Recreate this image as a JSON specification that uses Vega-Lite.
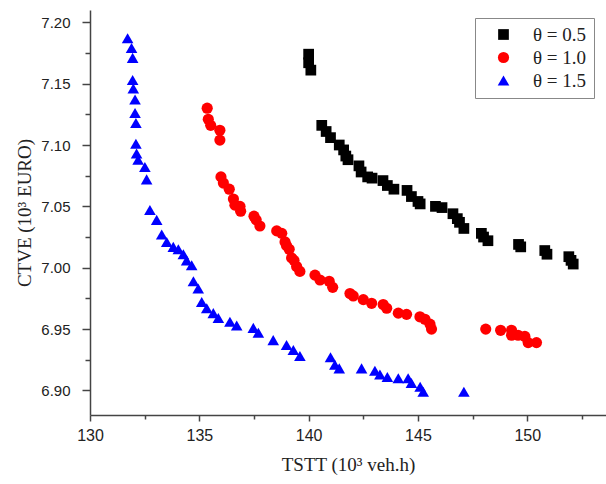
{
  "$schema": "https://vega.github.io/schema/vega-lite/v6.json",
  "width": 516,
  "height": 405,
  "autosize": {"type": "none"},
  "padding": {"left": 90, "top": 10, "right": 0, "bottom": 69},
  "background": "white",
  "config": {"view": {"stroke": null}},
  "data": {"values": [
    {"t": 140.0, "c": 7.174, "s": "θ = 0.5"},
    {"t": 140.0, "c": 7.167, "s": "θ = 0.5"},
    {"t": 140.1, "c": 7.161, "s": "θ = 0.5"},
    {"t": 140.6, "c": 7.116, "s": "θ = 0.5"},
    {"t": 140.8, "c": 7.111, "s": "θ = 0.5"},
    {"t": 141.0, "c": 7.106, "s": "θ = 0.5"},
    {"t": 141.4, "c": 7.100, "s": "θ = 0.5"},
    {"t": 141.6, "c": 7.096, "s": "θ = 0.5"},
    {"t": 141.7, "c": 7.091, "s": "θ = 0.5"},
    {"t": 141.8, "c": 7.088, "s": "θ = 0.5"},
    {"t": 142.3, "c": 7.083, "s": "θ = 0.5"},
    {"t": 142.4, "c": 7.078, "s": "θ = 0.5"},
    {"t": 142.7, "c": 7.074, "s": "θ = 0.5"},
    {"t": 142.9, "c": 7.073, "s": "θ = 0.5"},
    {"t": 143.4, "c": 7.071, "s": "θ = 0.5"},
    {"t": 143.6, "c": 7.067, "s": "θ = 0.5"},
    {"t": 143.9, "c": 7.064, "s": "θ = 0.5"},
    {"t": 144.5, "c": 7.063, "s": "θ = 0.5"},
    {"t": 144.7, "c": 7.058, "s": "θ = 0.5"},
    {"t": 145.0, "c": 7.054, "s": "θ = 0.5"},
    {"t": 145.1, "c": 7.052, "s": "θ = 0.5"},
    {"t": 145.8, "c": 7.050, "s": "θ = 0.5"},
    {"t": 146.1, "c": 7.049, "s": "θ = 0.5"},
    {"t": 146.6, "c": 7.044, "s": "θ = 0.5"},
    {"t": 146.8, "c": 7.040, "s": "θ = 0.5"},
    {"t": 146.9, "c": 7.037, "s": "θ = 0.5"},
    {"t": 147.1, "c": 7.032, "s": "θ = 0.5"},
    {"t": 147.9, "c": 7.028, "s": "θ = 0.5"},
    {"t": 148.0, "c": 7.025, "s": "θ = 0.5"},
    {"t": 148.2, "c": 7.022, "s": "θ = 0.5"},
    {"t": 149.6, "c": 7.019, "s": "θ = 0.5"},
    {"t": 149.7, "c": 7.017, "s": "θ = 0.5"},
    {"t": 150.8, "c": 7.014, "s": "θ = 0.5"},
    {"t": 150.9, "c": 7.011, "s": "θ = 0.5"},
    {"t": 151.9, "c": 7.009, "s": "θ = 0.5"},
    {"t": 152.0, "c": 7.006, "s": "θ = 0.5"},
    {"t": 152.1, "c": 7.003, "s": "θ = 0.5"},
    {"t": 135.36, "c": 7.130, "s": "θ = 1.0"},
    {"t": 135.41, "c": 7.121, "s": "θ = 1.0"},
    {"t": 135.52, "c": 7.116, "s": "θ = 1.0"},
    {"t": 135.94, "c": 7.112, "s": "θ = 1.0"},
    {"t": 135.94, "c": 7.104, "s": "θ = 1.0"},
    {"t": 135.99, "c": 7.074, "s": "θ = 1.0"},
    {"t": 136.10, "c": 7.069, "s": "θ = 1.0"},
    {"t": 136.37, "c": 7.064, "s": "θ = 1.0"},
    {"t": 136.56, "c": 7.056, "s": "θ = 1.0"},
    {"t": 136.63, "c": 7.051, "s": "θ = 1.0"},
    {"t": 136.86, "c": 7.050, "s": "θ = 1.0"},
    {"t": 136.89, "c": 7.046, "s": "θ = 1.0"},
    {"t": 137.50, "c": 7.042, "s": "θ = 1.0"},
    {"t": 137.60, "c": 7.039, "s": "θ = 1.0"},
    {"t": 137.77, "c": 7.034, "s": "θ = 1.0"},
    {"t": 138.54, "c": 7.030, "s": "θ = 1.0"},
    {"t": 138.77, "c": 7.028, "s": "θ = 1.0"},
    {"t": 138.92, "c": 7.021, "s": "θ = 1.0"},
    {"t": 138.99, "c": 7.018, "s": "θ = 1.0"},
    {"t": 139.11, "c": 7.015, "s": "θ = 1.0"},
    {"t": 139.22, "c": 7.008, "s": "θ = 1.0"},
    {"t": 139.33, "c": 7.006, "s": "θ = 1.0"},
    {"t": 139.45, "c": 7.001, "s": "θ = 1.0"},
    {"t": 139.60, "c": 6.997, "s": "θ = 1.0"},
    {"t": 140.29, "c": 6.994, "s": "θ = 1.0"},
    {"t": 140.52, "c": 6.990, "s": "θ = 1.0"},
    {"t": 140.94, "c": 6.989, "s": "θ = 1.0"},
    {"t": 141.10, "c": 6.984, "s": "θ = 1.0"},
    {"t": 141.89, "c": 6.979, "s": "θ = 1.0"},
    {"t": 142.04, "c": 6.977, "s": "θ = 1.0"},
    {"t": 142.50, "c": 6.974, "s": "θ = 1.0"},
    {"t": 142.88, "c": 6.971, "s": "θ = 1.0"},
    {"t": 143.41, "c": 6.970, "s": "θ = 1.0"},
    {"t": 143.57, "c": 6.967, "s": "θ = 1.0"},
    {"t": 144.10, "c": 6.963, "s": "θ = 1.0"},
    {"t": 144.48, "c": 6.962, "s": "θ = 1.0"},
    {"t": 145.09, "c": 6.960, "s": "θ = 1.0"},
    {"t": 145.32, "c": 6.958, "s": "θ = 1.0"},
    {"t": 145.55, "c": 6.954, "s": "θ = 1.0"},
    {"t": 145.62, "c": 6.950, "s": "θ = 1.0"},
    {"t": 148.10, "c": 6.950, "s": "θ = 1.0"},
    {"t": 148.78, "c": 6.949, "s": "θ = 1.0"},
    {"t": 149.28, "c": 6.949, "s": "θ = 1.0"},
    {"t": 149.28, "c": 6.945, "s": "θ = 1.0"},
    {"t": 149.58, "c": 6.945, "s": "θ = 1.0"},
    {"t": 149.89, "c": 6.944, "s": "θ = 1.0"},
    {"t": 150.04, "c": 6.939, "s": "θ = 1.0"},
    {"t": 150.42, "c": 6.939, "s": "θ = 1.0"},
    {"t": 131.72, "c": 7.187, "s": "θ = 1.5"},
    {"t": 131.90, "c": 7.179, "s": "θ = 1.5"},
    {"t": 131.95, "c": 7.171, "s": "θ = 1.5"},
    {"t": 131.95, "c": 7.153, "s": "θ = 1.5"},
    {"t": 131.98, "c": 7.146, "s": "θ = 1.5"},
    {"t": 132.06, "c": 7.137, "s": "θ = 1.5"},
    {"t": 132.06, "c": 7.126, "s": "θ = 1.5"},
    {"t": 132.10, "c": 7.118, "s": "θ = 1.5"},
    {"t": 132.10, "c": 7.101, "s": "θ = 1.5"},
    {"t": 132.13, "c": 7.093, "s": "θ = 1.5"},
    {"t": 132.20, "c": 7.088, "s": "θ = 1.5"},
    {"t": 132.51, "c": 7.082, "s": "θ = 1.5"},
    {"t": 132.59, "c": 7.072, "s": "θ = 1.5"},
    {"t": 132.74, "c": 7.047, "s": "θ = 1.5"},
    {"t": 133.05, "c": 7.039, "s": "θ = 1.5"},
    {"t": 133.28, "c": 7.027, "s": "θ = 1.5"},
    {"t": 133.51, "c": 7.021, "s": "θ = 1.5"},
    {"t": 133.81, "c": 7.017, "s": "θ = 1.5"},
    {"t": 134.04, "c": 7.015, "s": "θ = 1.5"},
    {"t": 134.27, "c": 7.011, "s": "θ = 1.5"},
    {"t": 134.42, "c": 7.006, "s": "θ = 1.5"},
    {"t": 134.65, "c": 7.002, "s": "θ = 1.5"},
    {"t": 134.73, "c": 6.989, "s": "θ = 1.5"},
    {"t": 134.95, "c": 6.983, "s": "θ = 1.5"},
    {"t": 135.11, "c": 6.972, "s": "θ = 1.5"},
    {"t": 135.34, "c": 6.967, "s": "θ = 1.5"},
    {"t": 135.64, "c": 6.963, "s": "θ = 1.5"},
    {"t": 135.87, "c": 6.959, "s": "θ = 1.5"},
    {"t": 136.40, "c": 6.956, "s": "θ = 1.5"},
    {"t": 136.71, "c": 6.953, "s": "θ = 1.5"},
    {"t": 137.47, "c": 6.951, "s": "θ = 1.5"},
    {"t": 137.70, "c": 6.947, "s": "θ = 1.5"},
    {"t": 138.38, "c": 6.941, "s": "θ = 1.5"},
    {"t": 138.99, "c": 6.937, "s": "θ = 1.5"},
    {"t": 139.30, "c": 6.933, "s": "θ = 1.5"},
    {"t": 139.60, "c": 6.928, "s": "θ = 1.5"},
    {"t": 141.00, "c": 6.927, "s": "θ = 1.5"},
    {"t": 141.20, "c": 6.921, "s": "θ = 1.5"},
    {"t": 141.40, "c": 6.918, "s": "θ = 1.5"},
    {"t": 142.42, "c": 6.918, "s": "θ = 1.5"},
    {"t": 143.03, "c": 6.916, "s": "θ = 1.5"},
    {"t": 143.26, "c": 6.913, "s": "θ = 1.5"},
    {"t": 143.60, "c": 6.911, "s": "θ = 1.5"},
    {"t": 144.10, "c": 6.910, "s": "θ = 1.5"},
    {"t": 144.55, "c": 6.910, "s": "θ = 1.5"},
    {"t": 144.70, "c": 6.906, "s": "θ = 1.5"},
    {"t": 145.10, "c": 6.903, "s": "θ = 1.5"},
    {"t": 145.24, "c": 6.899, "s": "θ = 1.5"},
    {"t": 147.10, "c": 6.899, "s": "θ = 1.5"}
  ]},
  "mark": {"type": "point", "filled": true, "opacity": 1, "strokeWidth": 0},
  "encoding": {
    "x": {
      "field": "t", "type": "quantitative",
      "scale": {"domain": [130, 153.6], "nice": false, "zero": false},
      "axis": {
        "title": "TSTT (10³ veh.h)",
        "values": [130, 132.5, 135, 137.5, 140, 142.5, 145, 147.5, 150, 152.5],
        "labelExpr": "datum.value % 5 === 0 ? format(datum.value, 'd') : ''",
        "tickSize": {"condition": {"test": "datum.value % 5 === 0", "value": 6}, "value": 4},
        "labelOverlap": false, "labelFlush": false,
        "grid": false,
        "domainColor": "#444", "domainWidth": 1.5, "tickColor": "#444", "tickWidth": 1.5,
        "labelFont": "Liberation Sans", "labelFontSize": 16, "labelColor": "#222", "labelPadding": 6,
        "titleFont": "Liberation Serif", "titleFontSize": 19, "titleFontWeight": "normal", "titleColor": "#222", "titlePadding": 12
      }
    },
    "y": {
      "field": "c", "type": "quantitative",
      "scale": {"domain": [6.88, 7.21], "nice": false, "zero": false},
      "axis": {
        "title": "CTVE (10³ EURO)",
        "values": [6.9, 6.925, 6.95, 6.975, 7.0, 7.025, 7.05, 7.075, 7.1, 7.125, 7.15, 7.175, 7.2],
        "labelExpr": "round(datum.value * 1000) % 50 === 0 ? format(datum.value, '.2f') : ''",
        "tickSize": {"condition": {"test": "round(datum.value * 1000) % 50 === 0", "value": 8}, "value": 5},
        "labelOverlap": false, "labelFlush": false,
        "grid": false,
        "domainColor": "#444", "domainWidth": 1.5, "tickColor": "#444", "tickWidth": 1.5,
        "labelFont": "Liberation Sans", "labelFontSize": 15, "labelColor": "#222", "labelPadding": 12,
        "titleFont": "Liberation Serif", "titleFontSize": 19, "titleFontWeight": "normal", "titleColor": "#222", "titlePadding": 6
      }
    },
    "color": {
      "field": "s", "type": "nominal",
      "scale": {"domain": ["θ = 0.5", "θ = 1.0", "θ = 1.5"], "range": ["#000000", "#ff0000", "#0000ff"]},
      "legend": {
        "title": null,
        "orient": "none", "legendX": 385, "legendY": 8,
        "strokeColor": "#888", "padding": 7, "fillColor": "white",
        "labelFont": "Liberation Serif", "labelFontSize": 19, "labelColor": "#222",
        "labelOffset": 20, "symbolOffset": 12, "rowPadding": 3,
        "symbolSize": 100, "symbolStrokeWidth": 0
      }
    },
    "shape": {
      "field": "s", "type": "nominal",
      "scale": {"domain": ["θ = 0.5", "θ = 1.0", "θ = 1.5"], "range": ["square", "circle", "triangle-up"]}
    },
    "size": {
      "field": "s", "type": "nominal",
      "scale": {"domain": ["θ = 0.5", "θ = 1.0", "θ = 1.5"], "range": [115, 135, 240]}
    }
  }
}
